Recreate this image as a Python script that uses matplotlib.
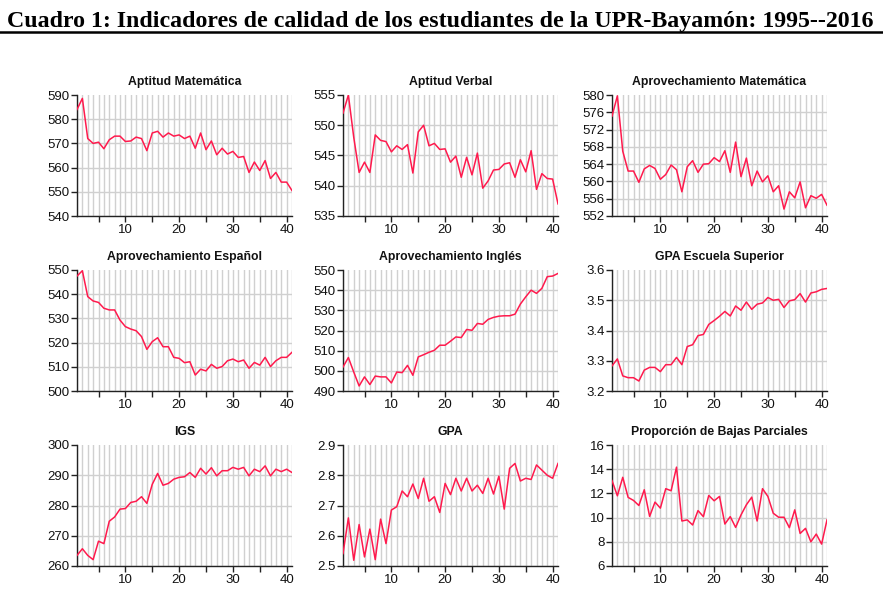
import matplotlib
matplotlib.use("Agg")
import matplotlib.pyplot as plt
from matplotlib.lines import Line2D
from matplotlib.ticker import FixedLocator

x = list(range(1, 42))

titles = ["Aptitud Matemática", "Aptitud Verbal", "Aprovechamiento Matemática",
          "Aprovechamiento Español", "Aprovechamiento Inglés", "GPA Escuela Superior",
          "IGS", "GPA", "Proporción de Bajas Parciales"]

aptitud_mat = [584, 588.6, 572, 570, 570.5, 567.8, 571.5, 573, 573, 570.8,
               571, 572.6, 572, 567, 574.3, 575, 572.6, 574.3, 573, 573.5,
               572, 573, 568, 574.3, 567.4, 571, 565.3, 568, 565.6, 566.7,
               564.2, 564.6, 558, 562.3, 558.8, 562.9, 555.5, 558, 554, 554, 550.5]
aptitud_verbal = [552, 555, 548, 542.2, 543.9, 542.2, 548.4, 547.5, 547.3, 545.6,
                  546.6, 546, 546.8, 542.1, 548.9, 550, 546.6, 547, 546, 546.1,
                  543.9, 544.9, 541.4, 544.7, 541.8, 545.4, 539.6, 540.8, 542.6, 542.7,
                  543.6, 543.8, 541.4, 544.3, 542.3, 545.8, 539.4, 542, 541.2, 541.1, 537]
aprov_mat = [575.1, 579.8, 567, 562.4, 562.4, 559.8, 562.9, 563.7, 563, 560.5,
             561.6, 563.8, 562.7, 557.6, 563.4, 564.8, 562.1, 564, 564.1, 565.5,
             564.6, 567.1, 562.1, 569.1, 561.1, 565.4, 559, 562.4, 559.9, 561.3,
             557.6, 559, 553.6, 557.6, 556.2, 559.9, 553.9, 556.7, 556.1, 557, 554.5]
aprov_esp = [547.5, 549.7, 539, 537.2, 536.6, 534.2, 533.5, 533.5, 529.3, 526.6,
             525.6, 524.9, 522.5, 517.2, 520.4, 522, 518.3, 518.3, 513.9, 513.5,
             511.7, 512.1, 506.6, 509, 508.3, 511, 509.4, 510.1, 512.5, 513.2,
             512.1, 512.8, 509.4, 511.8, 510.7, 513.9, 510.1, 512.5, 513.9, 513.9, 516]
aprov_ing = [501.9, 506.6, 499.4, 492.5, 497, 493.2, 497.4, 497, 497, 494,
             499.4, 499.1, 502.7, 497.8, 506.9, 508, 509.2, 510.2, 512.7, 512.7,
             514.7, 516.8, 516.5, 520.5, 520.1, 523.5, 523.1, 525.5, 526.5, 527.1,
             527.3, 527.3, 528.1, 533.1, 536.7, 540, 538.4, 540.9, 546.7, 547, 548.3]
gpa_es = [3.283, 3.306, 3.25, 3.244, 3.244, 3.233, 3.269, 3.278, 3.278, 3.264,
          3.287, 3.287, 3.311, 3.287, 3.347, 3.353, 3.383, 3.387, 3.42, 3.433,
          3.447, 3.463, 3.448, 3.481, 3.467, 3.494, 3.47, 3.487, 3.491, 3.509,
          3.5, 3.503, 3.476, 3.498, 3.502, 3.522, 3.494, 3.524, 3.528, 3.536, 3.539]
igs = [263.5, 265.7, 263.5, 262.1, 268.2, 267.4, 274.8, 276.2, 278.8, 279,
       281, 281.4, 282.9, 280.7, 287, 290.6, 286.7, 287.3, 288.7, 289.3,
       289.5, 290.9, 289.3, 292.3, 290.4, 292.5, 289.8, 291.5, 291.5, 292.6,
       292, 292.6, 289.8, 292, 291.2, 293.1, 289.8, 292, 291.2, 292, 290.9]
gpa = [2.541, 2.659, 2.519, 2.637, 2.530, 2.622, 2.521, 2.655, 2.574, 2.685,
       2.696, 2.748, 2.729, 2.771, 2.723, 2.79, 2.714, 2.729, 2.677, 2.773,
       2.736, 2.79, 2.748, 2.79, 2.748, 2.767, 2.74, 2.79, 2.738, 2.797,
       2.688, 2.823, 2.839, 2.781, 2.79, 2.786, 2.834, 2.817, 2.8, 2.79, 2.839]
bajas = [13.06, 11.8, 13.33, 11.67, 11.42, 11.0, 12.3, 10.1, 11.28, 10.78,
         12.39, 12.22, 14.17, 9.72, 9.81, 9.39, 10.58, 10.08, 11.83, 11.39,
         11.75, 9.47, 10.08, 9.19, 10.22, 11.06, 11.69, 9.72, 12.39, 11.75,
         10.36, 10.03, 10.03, 9.17, 10.64, 8.69, 9.11, 8.0, 8.64, 7.81, 9.81]

series = [aptitud_mat, aptitud_verbal, aprov_mat, aprov_esp, aprov_ing, gpa_es,
          igs, gpa, bajas]

yticks = [
    [540, 550, 560, 570, 580, 590],
    [535, 540, 545, 550, 555],
    [552, 556, 560, 564, 568, 572, 576, 580],
    [500, 510, 520, 530, 540, 550],
    [490, 500, 510, 520, 530, 540, 550],
    [3.2, 3.3, 3.4, 3.5, 3.6],
    [260, 270, 280, 290, 300],
    [2.5, 2.6, 2.7, 2.8, 2.9],
    [6, 8, 10, 12, 14, 16],
]
ytick_labels = [
    None, None, None, None, None,
    ["3.2", "3.3", "3.4", "3.5", "3.6"],
    None,
    ["2.5", "2.6", "2.7", "2.8", "2.9"],
    None,
]
xticks = [10, 20, 30, 40]
xminor = [5, 15, 25, 35]

W, H = 883, 600
fig = plt.figure(figsize=(W / 100, H / 100), dpi=100)
plt.rcParams['font.family'] = ['Liberation Sans', 'DejaVu Sans']

col_left = [77, 343, 612]
row_top = [95, 270, 445]
aw, ah = 215, 121

line_color = '#ff1a4d'
grid_color = '#d0d0d0'

for i in range(9):
    r, c = divmod(i, 3)
    left = col_left[c] / W
    bottom = 1 - (row_top[r] + ah) / H
    ax = fig.add_axes([left, bottom, aw / W, ah / H])
    ax.plot(x, series[i], color=line_color, lw=1.1, zorder=3)
    ax.set_xlim(1, 41)
    ax.set_ylim(yticks[i][0], yticks[i][-1])
    ax.set_yticks(yticks[i])
    if ytick_labels[i] is not None:
        ax.set_yticklabels(ytick_labels[i])
    ax.xaxis.set_major_locator(FixedLocator(xticks))
    ax.xaxis.set_minor_locator(FixedLocator(xminor))
    for xv in x:
        ax.axvline(xv, color=grid_color, lw=1.0, zorder=1)
    ax.grid(axis='y', color=grid_color, lw=1.0, zorder=1)
    ax.yaxis.get_gridlines()[-1].set_visible(False)
    ax.set_axisbelow(True)
    for s in ['top', 'right']:
        ax.spines[s].set_visible(False)
    for s in ['left', 'bottom']:
        ax.spines[s].set_color('#222222')
        ax.spines[s].set_linewidth(1.0)
    ax.tick_params(axis='both', which='both', direction='out', length=4,
                   width=1, color='#222222', labelsize=9.5, labelcolor='#111111', pad=1.5)
    ax.tick_params(axis='x', pad=2)
    ax.set_title(titles[i], fontsize=8.8, fontweight='bold', pad=7.5, color='#111111')

fig.text(7 / W, 1 - 27 / H, "Cuadro 1: Indicadores de calidad de los estudiantes de la UPR-Bayamón: 1995--2016",
         family=['Liberation Serif', 'DejaVu Serif'], fontweight='bold', fontsize=17.2,
         ha='left', va='baseline', color='black')
fig.add_artist(Line2D([0, 1], [1 - 32 / H, 1 - 32 / H], transform=fig.transFigure,
                      color='black', lw=1.8))

fig.savefig("out.png", dpi=100, facecolor='white')
